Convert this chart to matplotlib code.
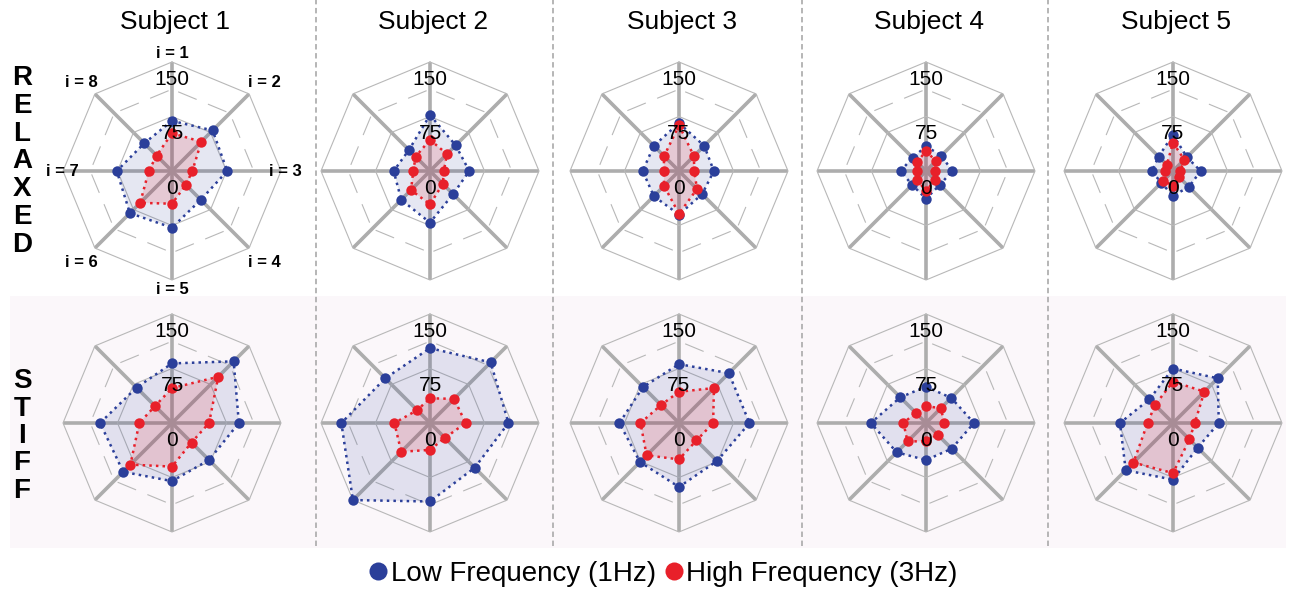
import numpy as np
import matplotlib.pyplot as plt
from matplotlib.lines import Line2D
from matplotlib.patches import Rectangle

plt.rcParams['font.family'] = ['Liberation Sans', 'DejaVu Sans']

subjects = ['Subject 1', 'Subject 2', 'Subject 3', 'Subject 4', 'Subject 5']
spoke_labels = ['i = 1', 'i = 2', 'i = 3', 'i = 4', 'i = 5', 'i = 6', 'i = 7', 'i = 8']
r_ticks = [0, 75, 150]
legend_labels = ['Low Frequency (1Hz)', 'High Frequency (3Hz)']

# values for i = 1..8, one row per subject
low_relaxed = [
    [69, 79, 76, 56, 78, 82, 76, 54],
    [77, 50, 54, 45, 71, 56, 50, 41],
    [66, 49, 48, 45, 60, 49, 50, 49],
    [34, 30, 36, 27, 38, 27, 35, 26],
    [50, 27, 38, 31, 34, 23, 29, 28],
]
high_relaxed = [
    [52, 57, 28, 27, 45, 62, 32, 30],
    [43, 33, 19, 25, 46, 37, 23, 28],
    [63, 29, 21, 35, 59, 29, 21, 29],
    [28, 19, 12, 17, 28, 17, 12, 17],
    [39, 22, 10, 12, 20, 19, 11, 12],
]
low_stiff = [
    [82, 120, 92, 72, 80, 95, 99, 69],
    [103, 118, 108, 87, 108, 150, 122, 87],
    [81, 97, 97, 74, 88, 76, 82, 70],
    [50, 49, 66, 50, 51, 57, 76, 50],
    [75, 87, 63, 48, 78, 92, 73, 46],
]
high_stiff = [
    [48, 90, 51, 38, 60, 81, 45, 33],
    [34, 47, 49, 29, 37, 56, 49, 25],
    [43, 68, 47, 34, 50, 63, 53, 35],
    [23, 29, 25, 23, 25, 36, 31, 20],
    [57, 61, 30, 32, 69, 77, 35, 35],
]

W, H = 1289, 589
fig = plt.figure(figsize=(W / 100, H / 100), dpi=100)

blue = '#2b3f9a'
red = '#e8202a'
spoke_c = '#adadad'
ring_c = '#b8b8b8'

col_x = [172, 430, 679, 926, 1173]
row_y = [171, 423]
R = 109

theta = np.arange(8) * 2 * np.pi / 8
theta_c = np.append(theta, theta[0])

# pink background for the stiff row and dashed separators
fig.add_artist(Rectangle((10 / W, 1 - 548 / H), 1276 / W, 252 / H, transform=fig.transFigure,
                         facecolor='#fbf7fa', edgecolor='none', zorder=-2))
for x in [316, 553, 802, 1048]:
    fig.add_artist(Line2D([x / W, x / W], [1 - 546 / H, 1], transform=fig.transFigure,
                          color='#b0b0b0', lw=1.3, ls=(0, (3, 2)), zorder=-1))

label_off = [(0, 9), (15, 11), (4, 0), (15, -14), (0, -9), (-14, -14), (-1, 0), (-14, 11)]


def radar(ax, low, high, show_labels):
    ax.set_theta_zero_location('N')
    ax.set_theta_direction(-1)
    ax.set_ylim(0, 150)
    ax.set_axis_off()
    for t in theta:
        ax.plot([t, t], [0, 150], color=spoke_c, lw=2.6, zorder=1, clip_on=False,
                solid_capstyle='butt')
    for lvl in [75, 150]:
        ax.plot(theta_c, [lvl] * 9, color=ring_c, lw=0.8, zorder=1, clip_on=False)
    # dashed middle ring, each edge on its own so the gaps sit at the corners
    for k in range(8):
        ax.plot(theta_c[k:k + 2], [112.5, 112.5], color=ring_c, lw=0.8,
                ls=(23, (18, 11)), zorder=1, clip_on=False)
    for vals, c, a in [(low, blue, 0.12), (high, red, 0.15)]:
        v = np.append(vals, vals[0])
        ax.fill(theta_c, v, color=c, alpha=a, lw=0, zorder=2, clip_on=False)
    for vals, c in [(low, blue), (high, red)]:
        v = np.append(vals, vals[0])
        ax.plot(theta_c, v, color=c, ls=':', lw=1.8, zorder=3, clip_on=False)
        ax.plot(theta, vals, 'o', color=c, ms=7.5, mec='none', zorder=4, clip_on=False)
    for rv in r_ticks:
        ax.annotate(str(rv), xy=(0, rv), xytext=(0, -12.5), textcoords='offset points',
                    ha='center', va='center', fontsize=15, zorder=5, annotation_clip=False)
    if show_labels:
        for t, lab, (dx, dy) in zip(theta, spoke_labels, label_off):
            ax.annotate(lab, xy=(t, 150), xytext=(dx * 0.72, dy * 0.72),
                        textcoords='offset points', ha='center', va='center',
                        fontsize=12, fontweight='bold', annotation_clip=False)


for row, (lows, highs) in enumerate([(low_relaxed, high_relaxed), (low_stiff, high_stiff)]):
    for col in range(5):
        cx, cy = col_x[col], row_y[row]
        ax = fig.add_axes([(cx - R) / W, 1 - (cy + R) / H, 2 * R / W, 2 * R / H],
                          projection='polar')
        radar(ax, lows[col], highs[col], row == 0 and col == 0)

for cx, name in zip(col_x, subjects):
    fig.text((cx + 3) / W, 1 - 22 / H, name, ha='center', va='center', fontsize=19)

for k, ch in enumerate('RELAXED'):
    fig.text(22 / W, 1 - (78 + k * 27.8) / H, ch, ha='center', va='center',
             fontsize=20, fontweight='bold')
for k, ch in enumerate('STIFF'):
    fig.text(22 / W, 1 - (381 + k * 27.5) / H, ch, ha='center', va='center',
             fontsize=20, fontweight='bold')

handles = [Line2D([], [], ls='', marker='o', color=c, ms=13, mec='none') for c in (blue, red)]
fig.legend(handles, legend_labels, loc='center', bbox_to_anchor=(663 / W, 1 - 574 / H),
           ncol=2, frameon=False, fontsize=20, handletextpad=0.1, columnspacing=0.3,
           handlelength=0.7, borderpad=0)

fig.savefig('out.png', dpi=100)
